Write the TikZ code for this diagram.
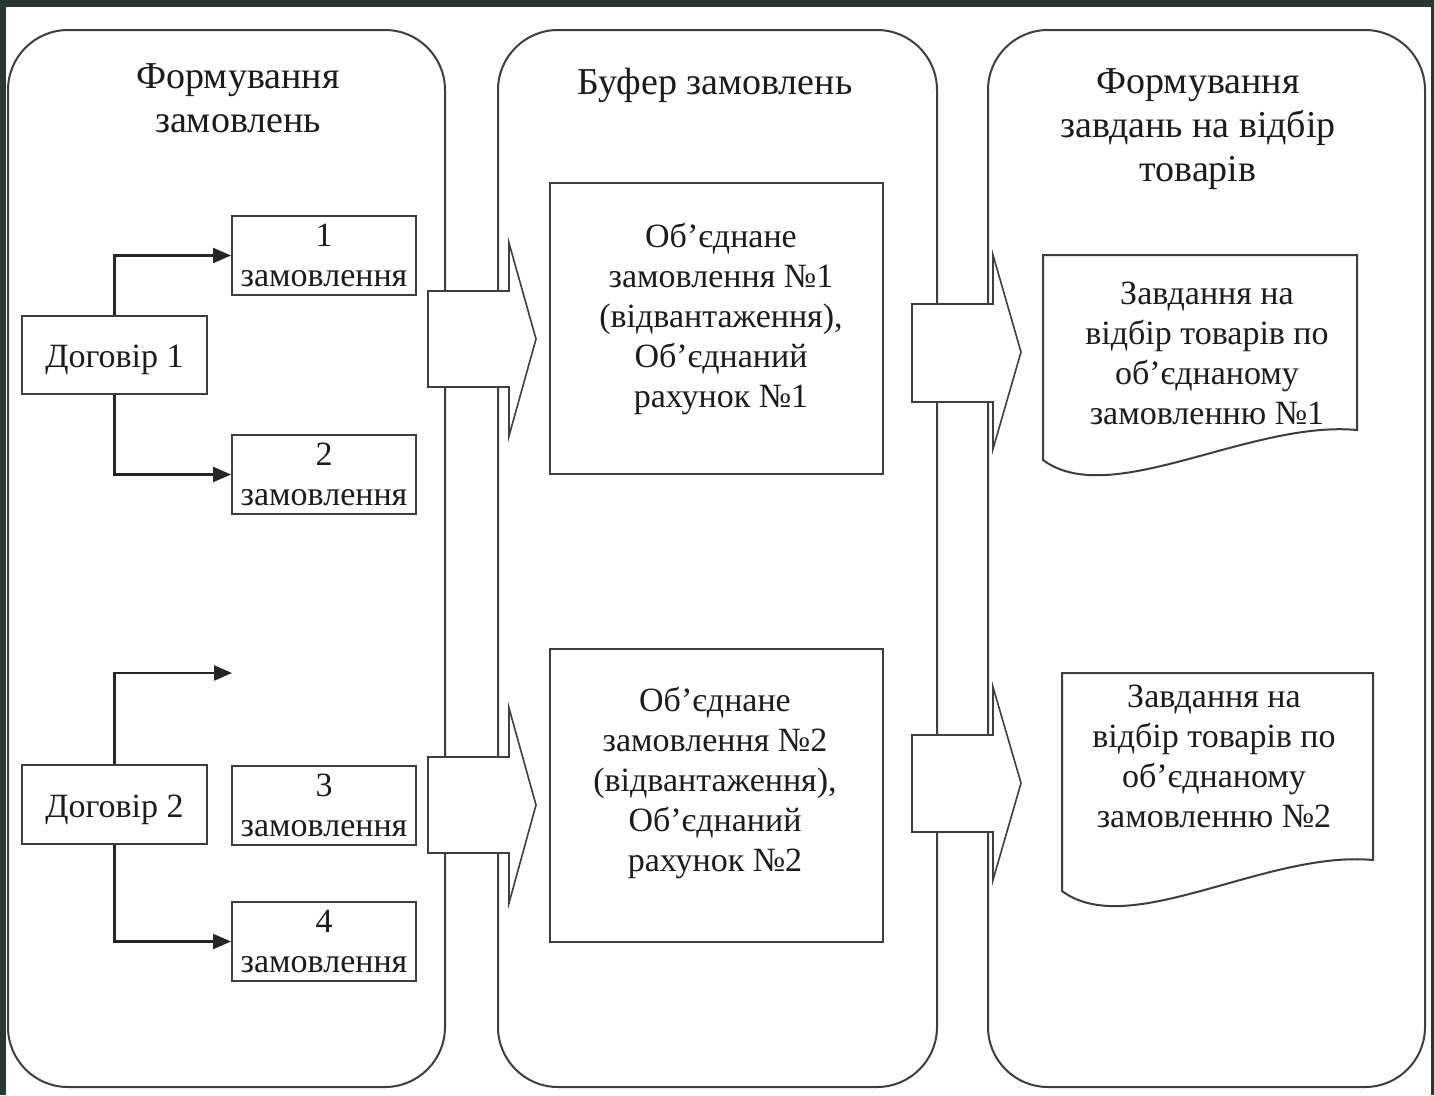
\documentclass[tikz,border=0pt]{standalone}
\usepackage{fontspec}
\setmainfont{Liberation Serif}
\usetikzlibrary{arrows.meta}
\definecolor{framecol}{RGB}{40,55,50}
\definecolor{linecol}{RGB}{62,62,62}
\definecolor{txtcol}{RGB}{28,28,28}
\newcommand\boxfont{\fontsize{34}{40}\selectfont}
\newcommand\lanefont{\fontsize{38}{44}\selectfont}
\begin{document}
\begin{tikzpicture}[x=1pt,y=-1pt,
  lane/.style={draw=linecol, line width=2pt, rounded corners=60pt, inner sep=0pt},
  box/.style={draw=linecol, line width=2pt, inner sep=0pt, align=center, font=\boxfont, text=txtcol},
  contract/.style={box, text height=30pt, text depth=5pt},
  txt/.style={inner sep=0pt, align=center, font=\boxfont, text=txtcol,
    execute at begin node=\strut, execute at end node=\strut},
  ttl/.style={inner sep=0pt, align=center, font=\lanefont, text=txtcol,
    execute at begin node=\strut, execute at end node=\strut},
  barrow/.style={draw=linecol, fill=white, line width=1.6pt, line join=miter},
  docshape/.style={draw=linecol, fill=white, line width=2pt},
  conn/.style={draw=black!85, line width=2.2pt, -{Triangle[length=18pt,width=15pt]}}]
\useasboundingbox (0,0) rectangle (1434,1095);
\fill[framecol] (0,0) rectangle (1434,1095);
\fill[white] (6,7) rectangle (1431,1095);

% swimlanes
\node[lane, minimum width=437pt, minimum height=1057pt] (lane1) at (226.5,558.5) {};
\node[lane, minimum width=439pt, minimum height=1057pt] (lane2) at (717.5,558.5) {};
\node[lane, minimum width=437pt, minimum height=1057pt] (lane3) at (1206.5,558.5) {};

\node[ttl] (ttl1) at (238,105) {Формування\\замовлень};
\node[ttl] (ttl2) at (715,86) {Буфер замовлень};
\node[ttl] (ttl3) at (1198,132) {Формування\\завдань на відбір\\товарів};

% block arrows
\draw[barrow] (428,291) -- (509,291) -- (509,243) -- (536,339) -- (509,436) -- (509,387) -- (428,387) -- cycle;
\draw[barrow] (428,757) -- (509,757) -- (509,708) -- (536,805) -- (509,903) -- (509,853) -- (428,853) -- cycle;
\draw[barrow] (912,304) -- (993,304) -- (993,255) -- (1021,352) -- (993,449) -- (993,402) -- (912,402) -- cycle;
\draw[barrow] (912,735) -- (993,735) -- (993,687) -- (1021,783) -- (993,880) -- (993,832) -- (912,832) -- cycle;

% lane 1
\node[contract, minimum width=185pt, minimum height=78pt] (d1) at (114.5,355) {Договір 1};
\node[box, minimum width=184pt, minimum height=79pt] (o1) at (324,255.5) {1\\замовлення};
\node[box, minimum width=184pt, minimum height=79pt] (o2) at (324,474.5) {2\\замовлення};
\node[contract, minimum width=185pt, minimum height=79pt] (d2) at (114.5,804.5) {Договір 2};
\node[box, minimum width=184pt, minimum height=79pt] (o3) at (324,805) {3\\замовлення};
\node[box, minimum width=184pt, minimum height=79pt] (o4) at (324,941.5) {4\\замовлення};
\coordinate (free) at (232,673);

\draw[conn] (d1.north) |- (o1.west);
\draw[conn] (d1.south) |- (o2.west);
\draw[conn] (d2.north) |- (free);
\draw[conn] (d2.south) |- (o4.west);

% lane 2
\node[box, minimum width=333pt, minimum height=291pt] (bA) at (716.5,328.5) {};
\node[txt] (tA) at (721,321) {Об’єднане\\замовлення №1\\(відвантаження),\\Об’єднаний\\рахунок №1};
\node[box, minimum width=333pt, minimum height=293pt] (bB) at (716.5,795.5) {};
\node[txt] (tB) at (715,785.5) {Об’єднане\\замовлення №2\\(відвантаження),\\Об’єднаний\\рахунок №2};

% lane 3
\draw[docshape] (1043,255) -- (1357,255) -- (1357,430) .. controls (1250,420) and (1110,510) .. (1043,460) -- cycle;
\node[txt] (tC) at (1207,359) {Завдання на\\відбір товарів по\\об’єднаному\\замовленню №1};
\draw[docshape] (1062,673) -- (1373,673) -- (1373,860) .. controls (1266,850) and (1129,941) .. (1062,891) -- cycle;
\node[txt] (tD) at (1214,762) {Завдання на\\відбір товарів по\\об’єднаному\\замовленню №2};
\end{tikzpicture}
\end{document}
